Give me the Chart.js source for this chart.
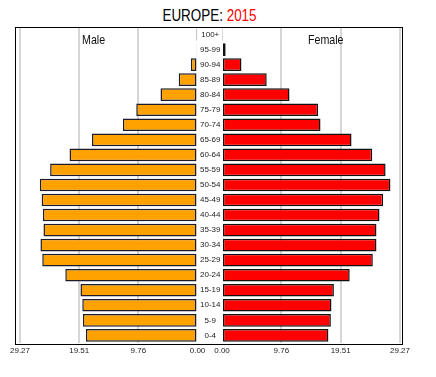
<!DOCTYPE html>
<html>
<head>
<meta charset="utf-8">
<script src="https://cdn.jsdelivr.net/npm/chart.js@4.4.0/dist/chart.umd.min.js"></script>
<style>
    body { margin: 0; background: #fff; width: 436px; height: 377px; position: relative; overflow: hidden; }
    #title { position: absolute; left: 0; width: 419px; top: 7px; line-height: 16px; text-align: center;
             font: 16px "Liberation Sans", Arial, sans-serif; color: #000; transform: scaleX(0.84); transform-origin: 209.5px 0; }
    #title span { color: #ff0000; }
    canvas { position: absolute; top: 0; }
    #frame { position: absolute; left: 15px; top: 27px; width: 386px; height: 316px; border: 1.5px solid #000; pointer-events: none; }
    .side { position: absolute; top: 32px; line-height: 13px; font: 13px "Liberation Sans", Arial, sans-serif; color: #111;
            transform: scaleX(0.82); transform-origin: 0 0; }
</style>
</head>
<body>
<div id="title">EUROPE: <span>2015</span></div>
<canvas id="maleChart" width="210" height="377" style="left:0"></canvas>
<canvas id="femaleChart" width="266" height="377" style="left:170px"></canvas>
<div id="frame"></div>
<div class="side" style="left:82px">Male</div>
<div class="side" style="left:308px">Female</div>
<script>
// population share by age group, top row first
const ageGroups = ['100+', '95-99', '90-94', '85-89', '80-84', '75-79', '70-74', '65-69', '60-64', '55-59', '50-54',
    '45-49', '40-44', '35-39', '30-34', '25-29', '20-24', '15-19', '10-14', '5-9', '0-4'];
const maleShare = [0.05, 0.2, 1.1, 3.1, 6.1, 10.1, 12.3, 17.4, 21.1, 24.3, 26.0,
    25.7, 25.5, 25.4, 25.9, 25.6, 21.8, 19.3, 19.0, 18.9, 18.4];
const femaleShare = [0.1, 0.6, 3.2, 7.35, 11.1, 15.8, 16.2, 21.3, 24.7, 26.9, 27.7,
    26.5, 25.9, 25.4, 25.4, 24.8, 21.0, 18.4, 18.0, 17.9, 17.5];
const axisTicks = [0, 9.76, 19.51, 29.27];
const axisMax = 29.27;

function xScale(reverse) {
    return {
        reverse: reverse,
        min: 0,
        max: axisMax,
        afterBuildTicks: scale => { scale.ticks = axisTicks.map(v => ({ value: v })); },
        ticks: {
            autoSkip: false,
            maxRotation: 0,
            padding: 3,
            color: '#222',
            font: { family: 'Liberation Sans', size: 8 },
            callback: v => v.toFixed(2)
        },
        grid: {
            drawTicks: false,
            lineWidth: 2,
            color: ctx => (ctx.tick && ctx.tick.value === 0) ? 'rgba(0,0,0,0)' : '#d6d6d6'
        },
        border: { display: false }
    };
}

const maleCtx = document.getElementById('maleChart').getContext('2d');
new Chart(maleCtx, {
    type: 'bar',
    data: {
        labels: ageGroups,
        datasets: [{
            data: maleShare,
            backgroundColor: '#ffa200',
            borderColor: '#1c1c2c',
            borderWidth: 1.5,
            borderSkipped: false,
            categoryPercentage: 1,
            barPercentage: 0.84
        }]
    },
    options: {
        responsive: false,
        animation: false,
        indexAxis: 'y',
        layout: { padding: { left: 20, right: 12.5, top: 27, bottom: 18.5 } },
        plugins: { legend: { display: false }, tooltip: { enabled: false } },
        scales: {
            x: xScale(true),
            y: { display: false }
        }
    }
});

// age labels sit in the middle column, as the y axis of the female side
const femaleCtx = document.getElementById('femaleChart').getContext('2d');
new Chart(femaleCtx, {
    type: 'bar',
    data: {
        labels: ageGroups,
        datasets: [{
            data: femaleShare,
            backgroundColor: '#ff0000',
            borderColor: '#111',
            borderWidth: 1.5,
            borderSkipped: false,
            categoryPercentage: 1,
            barPercentage: 0.84
        }]
    },
    options: {
        responsive: false,
        animation: false,
        indexAxis: 'y',
        layout: { padding: { left: 0, right: 36, top: 27, bottom: 18.5 } },
        plugins: { legend: { display: false }, tooltip: { enabled: false } },
        scales: {
            x: xScale(false),
            y: {
                afterFit: scale => { scale.width = 52; },
                ticks: {
                    crossAlign: 'center',
                    padding: 1.5,
                    color: '#222',
                    font: { family: 'Liberation Sans', size: 8 }
                },
                grid: { display: false, drawTicks: false },
                border: { display: false }
            }
        }
    }
});
</script>
</body>
</html>
